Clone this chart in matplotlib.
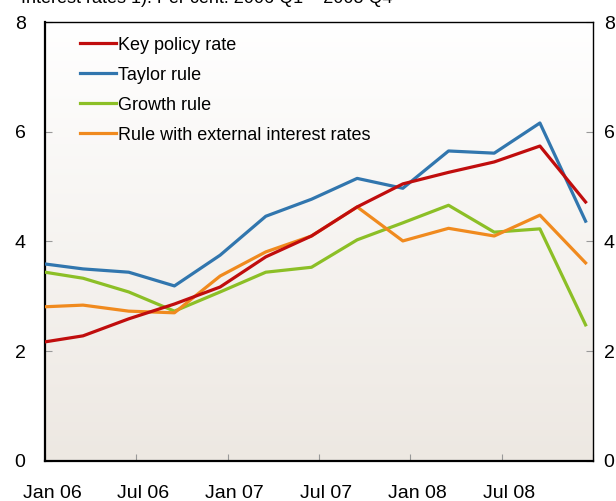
import numpy as np
import matplotlib.pyplot as plt
from matplotlib.transforms import ScaledTranslation

plt.rcParams['font.family'] = ['Liberation Sans', 'DejaVu Sans']

# months after Jan 2006 (quarterly observations)
months = [0, 2.5, 5.5, 8.5, 11.5, 14.5, 17.5, 20.5, 23.5, 26.5, 29.5, 32.5, 35.5]

key_policy = [2.17, 2.28, 2.59, 2.86, 3.17, 3.72, 4.10, 4.63, 5.05, 5.26, 5.45, 5.74, 4.72]
taylor = [3.59, 3.50, 3.44, 3.19, 3.75, 4.46, 4.77, 5.15, 4.97, 5.65, 5.61, 6.16, 4.37]
growth = [3.44, 3.33, 3.08, 2.73, 3.08, 3.44, 3.53, 4.03, 4.34, 4.66, 4.17, 4.23, 2.48]
external = [2.81, 2.84, 2.73, 2.70, 3.37, 3.81, 4.10, 4.63, 4.01, 4.24, 4.10, 4.48, 3.61]

tick_labels = ['Jan 06', 'Jul 06', 'Jan 07', 'Jul 07', 'Jan 08', 'Jul 08']

fig = plt.figure(figsize=(6.16, 5.01), dpi=100)
ax = fig.add_axes([0.073, 0.080, 0.890, 0.876])

# soft vertical gradient behind the lines
grad = np.linspace(0, 1, 256).reshape(-1, 1)
top_c = np.array([1.0, 1.0, 1.0])
bot_c = np.array([237, 232, 226]) / 255
img = top_c * (1 - grad[..., None]) + bot_c * grad[..., None]
ax.imshow(img, extent=[0, 36, 0, 8], aspect='auto', origin='upper', zorder=0)

ax.plot(months, key_policy, color='#C00D0D', lw=2.3, label='Key policy rate', zorder=5)
ax.plot(months, taylor, color='#3176AE', lw=2.3, label='Taylor rule', zorder=4)
ax.plot(months, growth, color='#8CBF26', lw=2.3, label='Growth rule', zorder=3)
ax.plot(months, external, color='#F08A1E', lw=2.3, label='Rule with external interest rates', zorder=4)

ax.set_xlim(0, 36)
ax.set_ylim(0, 8)
ax.set_yticks([0, 2, 4, 6, 8])
ax.set_xticks([0, 6, 12, 18, 24, 30, 36])
ax.set_xticklabels(tick_labels + [''])

ax.tick_params(axis='y', direction='in', length=5, color='#999999', labelsize=14,
               left=True, right=True, labelleft=True, labelright=True, pad=14)
ax.tick_params(axis='x', direction='in', length=5, color='#999999', labelsize=14, pad=17)

shift = ScaledTranslation(7 / 100, 0, fig.dpi_scale_trans)
for lab in ax.get_xticklabels():
    lab.set_transform(lab.get_transform() + shift)

for t in ax.yaxis.get_major_ticks():
    t.label2.set_transform(t.label2.get_transform() + ScaledTranslation(-9 / 100, 0, fig.dpi_scale_trans))

for side in ['left', 'bottom']:
    ax.spines[side].set_linewidth(1.6)
for side in ['top', 'right']:
    ax.spines[side].set_linewidth(1.0)

ax.legend(loc='upper left', bbox_to_anchor=(0.05, 0.983), frameon=False, fontsize=13,
          handlelength=2.0, handletextpad=0.1, labelspacing=0.72, borderaxespad=0)

fig.text(0.034, 0.995, 'Interest rates 1). Per cent. 2006 Q1 \u2013 2008 Q4',
         fontsize=13, va='baseline', ha='left')

fig.savefig('out.png', dpi=100)
